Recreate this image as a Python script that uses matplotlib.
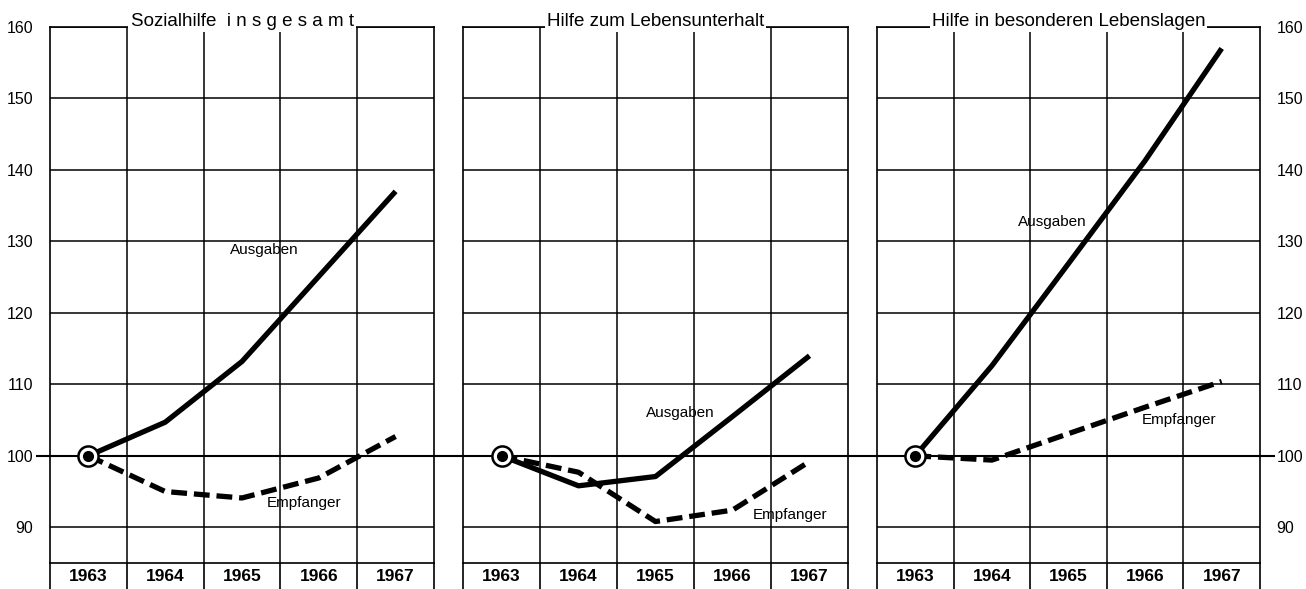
import numpy as np
import matplotlib.pyplot as plt

# index values, 1963 = 100
years = ['1963', '1964', '1965', '1966', '1967']
titles = ['Sozialhilfe  i n s g e s a m t', 'Hilfe zum Lebensunterhalt',
          'Hilfe in besonderen Lebenslagen']
ausgaben = [[100, 104.7, 113.2, 125.1, 137.0],
            [100, 95.8, 97.1, 105.5, 114.0],
            [100, 112.6, 126.9, 141.3, 157.0]]
empfaenger = [[100, 95.0, 94.1, 96.9, 102.7],
              [100, 97.7, 90.8, 92.4, 99.2],
              [100, 99.4, 103.1, 106.8, 110.4]]
yticks = [90, 100, 110, 120, 130, 140, 150, 160]
label_pos = [((2.79, 128.8), (3.31, 93.4)),
             ((2.82, 106.0), (4.25, 91.7)),
             ((2.29, 132.7), (3.94, 105.0))]

plt.rcParams['font.family'] = ['Liberation Sans', 'DejaVu Sans']

W, H = 1306, 589
fig = plt.figure(figsize=(W/100, H/100), dpi=100)
panels = [(50, 434), (463, 848), (877, 1260)]
top, bottom = 27, 563

x = np.arange(len(years)) + 0.5
for k, (x0, x1) in enumerate(panels):
    ax = fig.add_axes([x0/W, 1 - bottom/H, (x1 - x0)/W, (bottom - top)/H])
    ax.set_xlim(0, 5)
    ax.set_ylim(85, 160)
    for s in ax.spines.values():
        s.set_linewidth(1.2)
    # grid
    for yv in yticks:
        if yv == 100:
            ax.plot([-0.17, 5.18], [100, 100], color='k', lw=1.5,
                    clip_on=False, zorder=1)
        else:
            ax.axhline(yv, color='k', lw=1.1, zorder=1)
    for xv in range(1, 5):
        ax.axvline(xv, color='k', lw=1.1, zorder=1)
    # ticks below the box at column edges, year labels in the middle
    ax.set_xticks(range(6))
    ax.set_xticklabels([])
    ax.tick_params(axis='x', which='major', length=22, width=1.2,
                   direction='out')
    ax.set_xticks(x, minor=True)
    ax.set_xticklabels(years, minor=True, fontsize=12.5, fontweight='bold')
    ax.tick_params(axis='x', which='minor', length=0, pad=4)
    ax.set_yticks(yticks)
    ax.tick_params(axis='y', length=0, labelsize=11.5, pad=12)
    if k == 0:
        ax.set_yticklabels(yticks)
    elif k == 2:
        ax.yaxis.tick_right()
        ax.set_yticklabels(yticks)
    else:
        ax.set_yticklabels([])

    ax.plot(x, ausgaben[k], color='k', lw=3.8, solid_capstyle='butt',
            zorder=3)
    ax.plot(x, empfaenger[k], color='k', lw=3.8, dashes=(3, 1.3),
            zorder=3)
    ax.plot(x[0], ausgaben[k][0], 'o', ms=14.5, mfc='white', mec='k',
            mew=1.8, zorder=4)
    ax.plot(x[0], ausgaben[k][0], 'o', ms=7, color='k', zorder=5)

    ax.text(2.5, 160.8, titles[k], ha='center', va='center', fontsize=13.5,
            bbox=dict(facecolor='white', edgecolor='none', pad=1.5),
            zorder=6)
    (ax_x, ax_y), (em_x, em_y) = label_pos[k]
    ax.text(ax_x, ax_y, 'Ausgaben', ha='center', va='center', fontsize=11,
            zorder=6)
    ax.text(em_x, em_y, 'Empfanger', ha='center', va='center', fontsize=11,
            zorder=6)

fig.savefig('out.png', dpi=100)
